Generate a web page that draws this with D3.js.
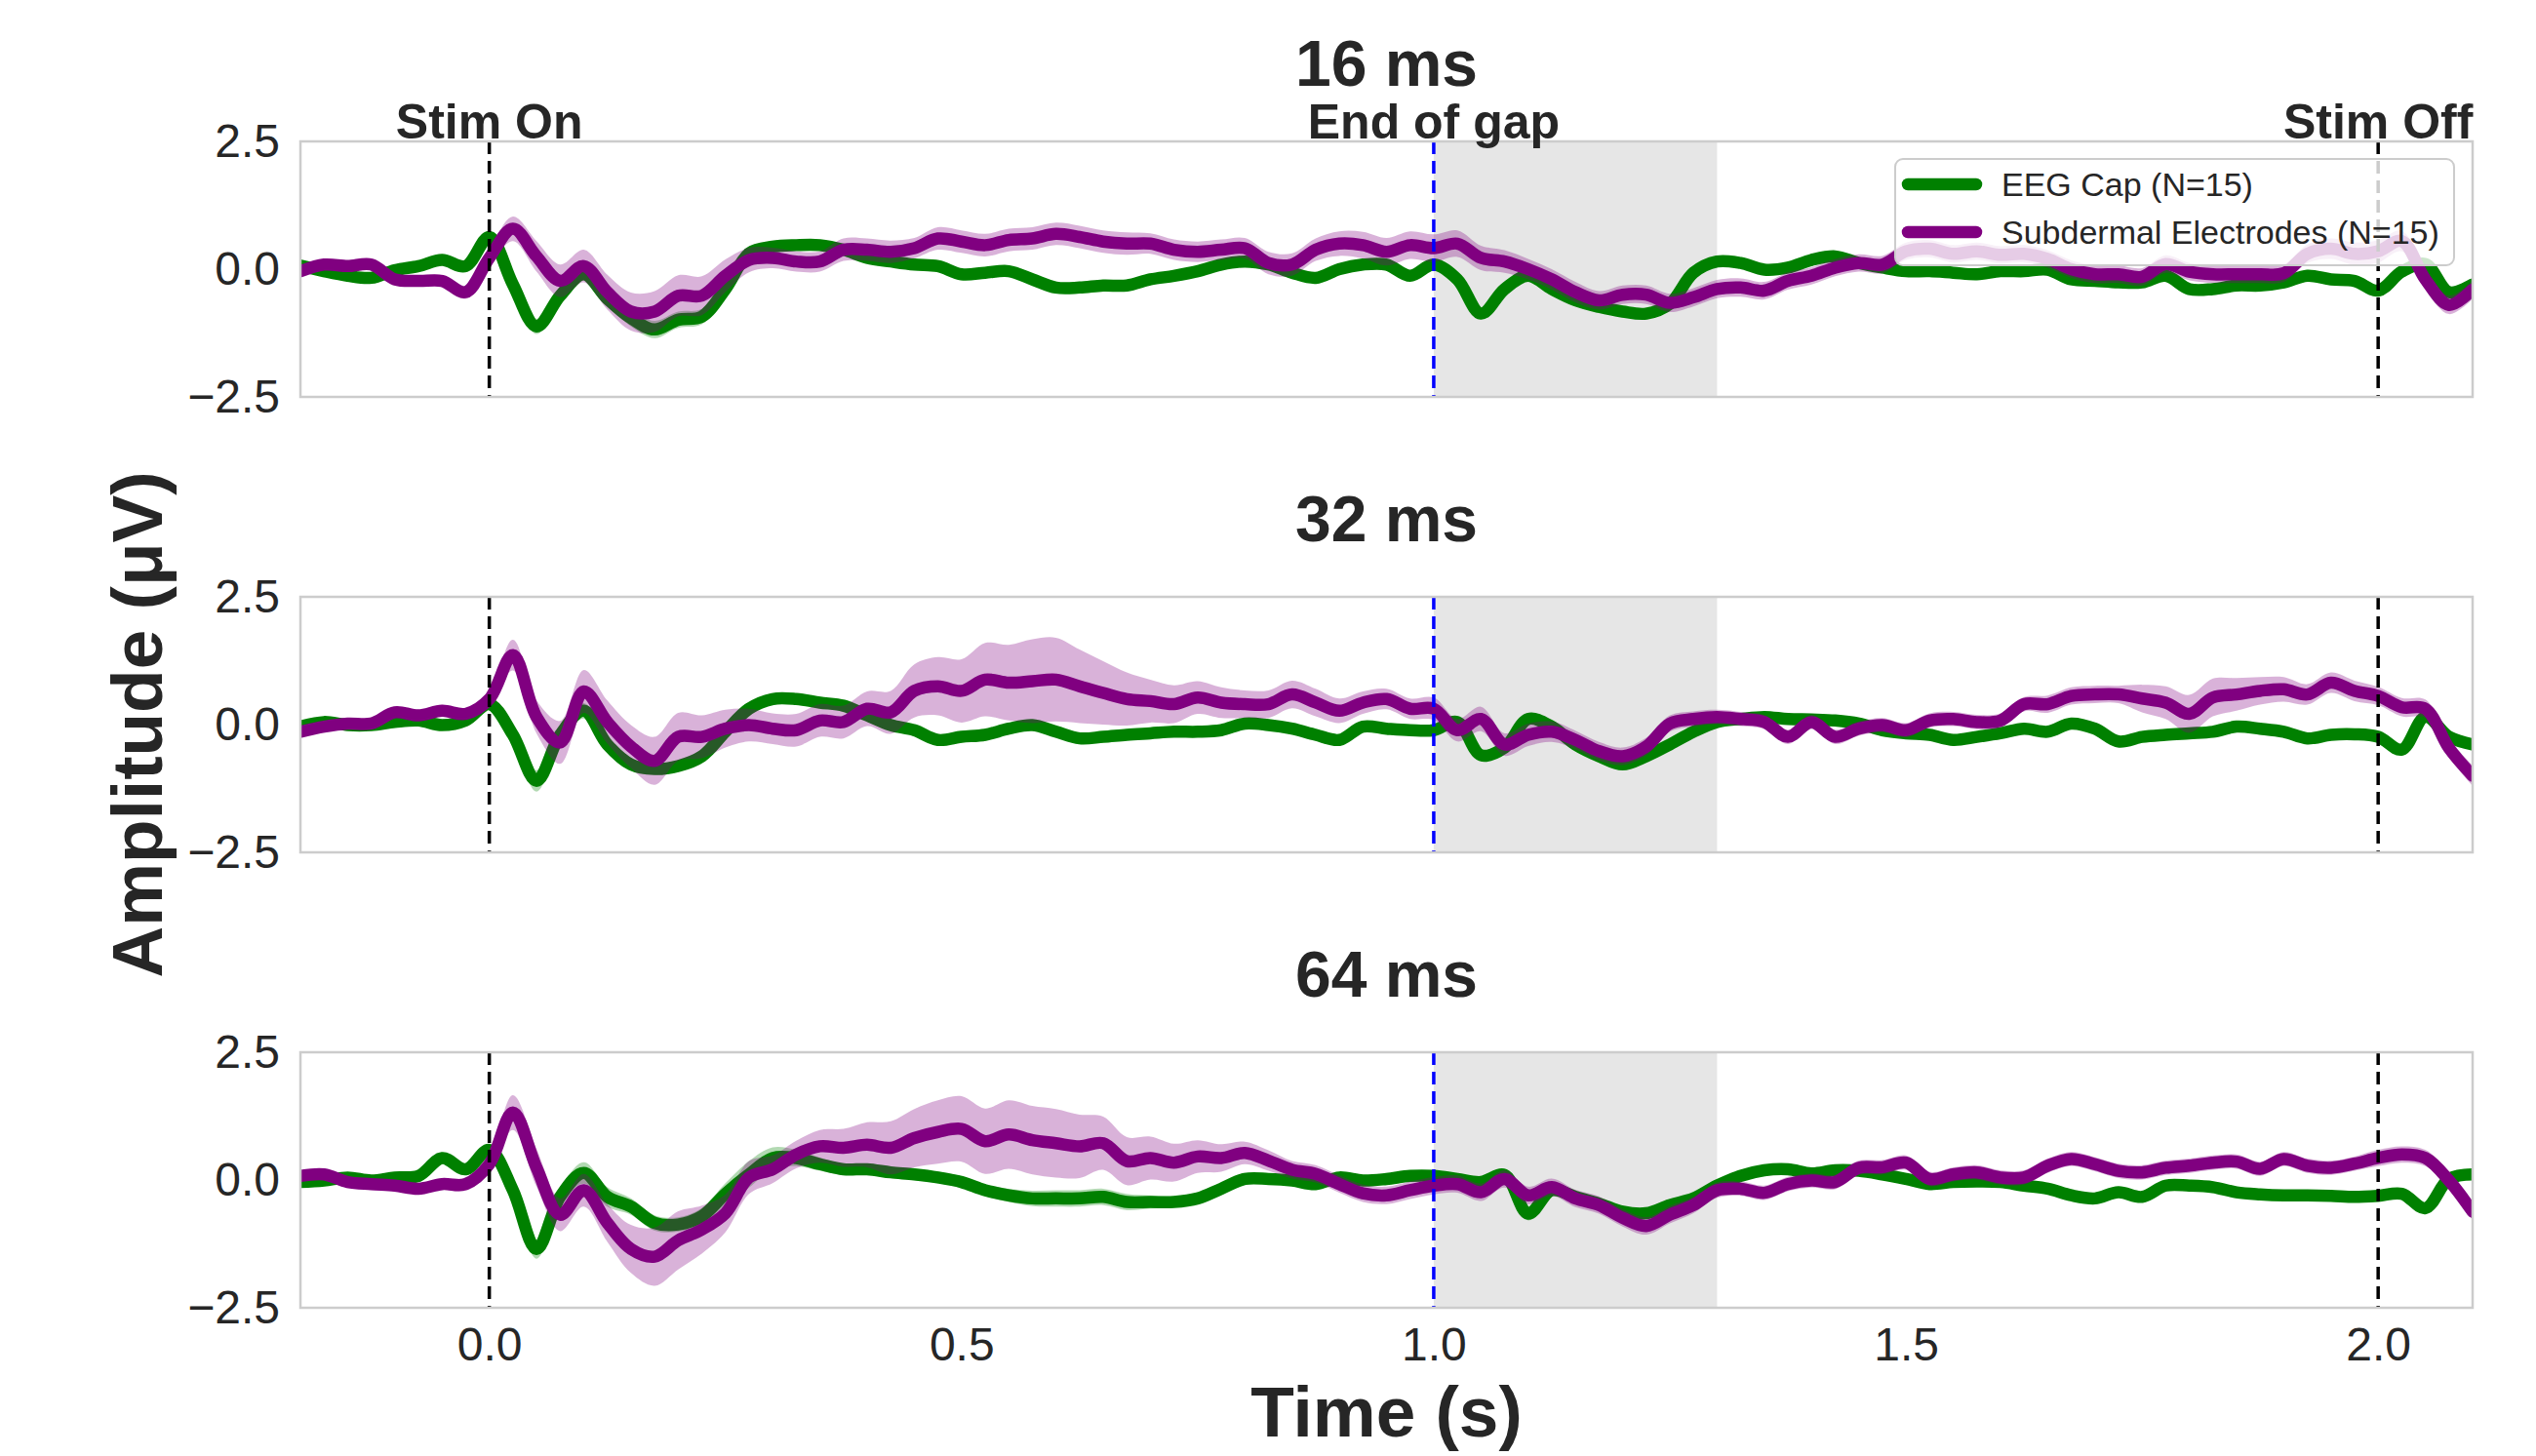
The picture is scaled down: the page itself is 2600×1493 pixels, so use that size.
<!DOCTYPE html>
<html>
<head>
<meta charset="utf-8">
<script src="https://cdn.jsdelivr.net/npm/d3@7"></script>
<style>
  body { margin: 0; background: #fff; }
  svg text { font-family: "Liberation Sans", Arial, sans-serif; fill: #262626; }
</style>
</head>
<body>
<script>
//time axis of the averaged ERPs (s)
var timeS = [
  -0.2,-0.175,-0.15,-0.125,-0.1,-0.075,-0.05,-0.025,0,0.025,
  0.05,0.075,0.1,0.125,0.15,0.175,0.2,0.225,0.25,0.275,
  0.3,0.325,0.35,0.375,0.4,0.425,0.45,0.475,0.5,0.525,
  0.55,0.575,0.6,0.625,0.65,0.675,0.7,0.725,0.75,0.775,
  0.8,0.825,0.85,0.875,0.9,0.925,0.95,0.975,1.0,1.025,
  1.05,1.075,1.1,1.125,1.15,1.175,1.2,1.225,1.25,1.275,
  1.3,1.325,1.35,1.375,1.4,1.425,1.45,1.475,1.5,1.525,
  1.55,1.575,1.6,1.625,1.65,1.675,1.7,1.725,1.75,1.775,
  1.8,1.825,1.85,1.875,1.9,1.925,1.95,1.975,2.0,2.025,
  2.05,2.075,2.1
];

var panelTitles = ["16 ms", "32 ms", "64 ms"];
var seriesNames = ["EEG Cap (N=15)", "Subdermal Electrodes (N=15)"];
var markerTimes = [0, 1.0, 2.0];
var markerLabels = ["Stim On", "End of gap", "Stim Off"];
var gapSpan = [1.0, 1.3];
var xTicks = [0, 0.5, 1.0, 1.5, 2.0];
var yTicks = [-2.5, 0, 2.5];

//mean amplitudes (uV)
var eegCap16 = [
  0.07,-0.04,-0.13,-0.17,-0.02,0.06,0.18,0.06,0.63,-0.3,
  -1.12,-0.52,-0.1,-0.58,-0.96,-1.18,-0.99,-0.93,-0.39,0.31,
  0.44,0.47,0.47,0.38,0.22,0.15,0.09,0.06,-0.1,-0.07,
  -0.04,-0.2,-0.36,-0.36,-0.32,-0.32,-0.2,-0.13,-0.04,0.09,
  0.15,0.09,-0.07,-0.17,0,0.09,0.09,-0.13,0.09,-0.2,
  -0.87,-0.39,-0.13,-0.39,-0.61,-0.74,-0.83,-0.87,-0.68,-0.07,
  0.15,0.12,-0.01,0.03,0.18,0.25,0.12,0.03,-0.04,-0.04,
  -0.07,-0.1,-0.04,-0.04,-0.01,-0.2,-0.23,-0.26,-0.26,-0.13,
  -0.39,-0.39,-0.32,-0.32,-0.26,-0.13,-0.2,-0.23,-0.42,-0.05,
  0.1,-0.45,-0.3
];
var subdermal16 = [
  -0.04,0.09,0.06,0.09,-0.2,-0.23,-0.23,-0.45,0.22,0.79,
  0.25,-0.23,0.06,-0.45,-0.83,-0.83,-0.52,-0.52,-0.13,0.18,
  0.22,0.15,0.15,0.38,0.38,0.34,0.41,0.6,0.54,0.47,
  0.57,0.6,0.69,0.63,0.54,0.5,0.5,0.38,0.34,0.38,
  0.41,0.12,0.09,0.38,0.5,0.47,0.34,0.47,0.41,0.5,
  0.22,0.15,0,-0.2,-0.45,-0.61,-0.5,-0.5,-0.66,-0.55,
  -0.39,-0.36,-0.42,-0.23,-0.13,0.03,0.12,0.09,0.35,0.4,
  0.3,0.35,0.28,0.3,0.2,0,-0.1,-0.1,-0.15,0.1,
  -0.05,-0.1,-0.1,-0.1,-0.08,0.3,0.4,0.3,0.35,0.55,
  -0.2,-0.7,-0.4
];
var eegCap32 = [
  -0.04,0.05,-0.01,-0.01,0.05,0.08,-0.01,0.08,0.4,-0.2,
  -1.1,-0.2,0.27,-0.39,-0.78,-0.87,-0.81,-0.62,-0.14,0.31,
  0.5,0.5,0.43,0.37,0.18,-0.01,-0.11,-0.3,-0.24,-0.2,
  -0.08,-0.01,-0.14,-0.27,-0.24,-0.2,-0.17,-0.14,-0.14,-0.11,
  0.02,-0.01,-0.08,-0.2,-0.3,-0.04,-0.08,-0.11,-0.11,0.05,
  -0.6,-0.45,0.11,-0.04,-0.39,-0.62,-0.78,-0.62,-0.39,-0.14,
  0.05,0.11,0.15,0.11,0.1,0.08,0.02,-0.11,-0.17,-0.2,
  -0.3,-0.24,-0.17,-0.08,-0.14,0.02,-0.08,-0.33,-0.24,-0.2,
  -0.17,-0.14,-0.04,-0.08,-0.14,-0.27,-0.2,-0.19,-0.24,-0.49,
  0.15,-0.24,-0.39
];
var subdermal32 = [
  -0.14,-0.04,0.02,0.02,0.24,0.18,0.27,0.21,0.5,1.36,
  0.15,-0.35,0.65,0.05,-0.43,-0.71,-0.24,-0.24,-0.08,-0.01,
  -0.08,-0.11,0.08,0.05,0.31,0.24,0.66,0.75,0.66,0.88,
  0.82,0.85,0.88,0.75,0.62,0.5,0.46,0.4,0.53,0.43,
  0.4,0.4,0.59,0.43,0.27,0.43,0.5,0.31,0.31,-0.11,
  0.11,-0.39,-0.2,-0.14,-0.3,-0.52,-0.62,-0.43,0.02,0.11,
  0.15,0.11,0.05,-0.24,0.05,-0.24,-0.08,-0.01,-0.11,0.08,
  0.11,0.05,0.08,0.4,0.4,0.56,0.59,0.59,0.51,0.43,
  0.21,0.53,0.59,0.66,0.69,0.59,0.82,0.66,0.56,0.34,
  0.31,-0.46,-1.0
];
var eegCap64 = [
  -0.04,-0.01,0.05,-0.01,0.05,0.08,0.43,0.21,0.59,-0.2,
  -1.35,-0.33,0.14,-0.33,-0.52,-0.84,-0.87,-0.71,-0.27,0.11,
  0.43,0.43,0.31,0.21,0.21,0.15,0.11,0.05,-0.04,-0.2,
  -0.3,-0.36,-0.36,-0.36,-0.33,-0.43,-0.43,-0.43,-0.36,-0.17,
  0.02,0.02,-0.01,-0.08,0.05,-0.01,0.02,0.08,0.08,0.02,
  -0.04,0.1,-0.66,-0.2,-0.33,-0.46,-0.62,-0.65,-0.49,-0.36,
  -0.11,0.08,0.19,0.21,0.13,0.19,0.18,0.11,0.02,-0.08,
  -0.04,-0.03,-0.04,-0.11,-0.17,-0.3,-0.36,-0.24,-0.33,-0.11,
  -0.11,-0.14,-0.24,-0.28,-0.3,-0.3,-0.31,-0.33,-0.31,-0.27,
  -0.55,0.02,0.11
];
var subdermal64 = [
  0.08,0.11,-0.04,-0.08,-0.11,-0.17,-0.08,-0.08,0.31,1.32,
  0.24,-0.68,-0.2,-0.84,-1.35,-1.5,-1.18,-0.97,-0.65,0.05,
  0.21,0.5,0.66,0.63,0.69,0.63,0.82,0.94,1.0,0.76,
  0.89,0.78,0.72,0.66,0.72,0.37,0.43,0.34,0.46,0.43,
  0.53,0.38,0.2,0.12,-0.08,-0.26,-0.3,-0.2,-0.11,-0.08,
  -0.24,0.02,-0.3,-0.14,-0.36,-0.49,-0.74,-0.9,-0.68,-0.49,
  -0.2,-0.17,-0.25,-0.08,-0.01,-0.04,0.24,0.25,0.34,0.02,
  0.11,0.15,0.05,0.05,0.28,0.41,0.31,0.18,0.15,0.24,
  0.28,0.34,0.36,0.22,0.41,0.28,0.24,0.32,0.43,0.5,
  0.43,-0.01,-0.62
];

//standard error of the mean (uV)
var eegCapSem16 = [
  .07,.07,.07,.07,.07,.07,.08,.08,.09,.11,
  .15,.13,.11,.13,.16,.17,.16,.15,.13,.11,
  .09,.09,.08,.08,.08,.08,.08,.09,.09,.09,
  .09,.09,.1,.1,.1,.09,.09,.09,.08,.08,
  .08,.08,.08,.08,.08,.08,.08,.08,.08,.08,
  .1,.09,.09,.09,.09,.09,.09,.09,.09,.08,
  .08,.08,.08,.07,.07,.07,.07,.07,.07,.07,
  .07,.07,.07,.07,.07,.07,.07,.07,.08,.08,
  .08,.08,.08,.08,.08,.08,.08,.08,.09,.09,
  .09,.1,.1
];
var subdermalSem16 = [
  .11,.11,.11,.11,.11,.11,.11,.13,.17,.24,
  .3,.32,.32,.34,.37,.4,.4,.38,.32,.24,
  .2,.2,.2,.22,.22,.22,.2,.22,.22,.22,
  .22,.22,.22,.22,.22,.22,.2,.2,.2,.2,
  .2,.22,.22,.22,.24,.26,.27,.27,.27,.26,
  .24,.22,.2,.2,.2,.18,.18,.18,.18,.18,
  .18,.18,.17,.17,.17,.17,.17,.17,.17,.17,
  .17,.17,.17,.17,.17,.17,.17,.17,.17,.17,
  .17,.17,.17,.17,.17,.18,.2,.22,.22,.2,
  .2,.18,.18
];
var eegCapSem32 = [
  .07,.07,.07,.07,.07,.07,.07,.08,.09,.13,
  .21,.16,.15,.13,.11,.11,.11,.11,.11,.11,
  .11,.11,.1,.09,.09,.09,.09,.09,.09,.09,
  .09,.09,.09,.09,.09,.09,.09,.09,.09,.09,
  .08,.08,.08,.08,.08,.08,.08,.08,.08,.09,
  .11,.11,.11,.1,.1,.1,.1,.11,.11,.09,
  .08,.08,.08,.08,.08,.08,.08,.08,.08,.08,
  .08,.08,.08,.08,.08,.08,.08,.08,.08,.08,
  .08,.08,.08,.08,.08,.08,.08,.08,.09,.09,
  .09,.1,.11
];
var subdermalSem32 = [
  .09,.09,.09,.09,.09,.11,.11,.11,.15,.3,
  .32,.42,.42,.42,.42,.47,.47,.42,.37,.32,
  .3,.32,.32,.32,.34,.42,.52,.57,.62,.72,
  .74,.82,.82,.72,.62,.52,.42,.37,.32,.3,
  .27,.27,.27,.27,.24,.22,.2,.2,.22,.22,
  .24,.22,.22,.2,.18,.18,.17,.17,.16,.15,
  .14,.14,.14,.14,.14,.14,.14,.14,.14,.14,
  .14,.14,.14,.14,.17,.17,.17,.17,.27,.32,
  .37,.37,.32,.27,.24,.2,.2,.2,.18,.18,
  .18,.18,.2
];
var eegCapSem64 = [
  .07,.07,.07,.07,.07,.07,.08,.08,.09,.13,
  .19,.16,.21,.19,.16,.15,.14,.16,.21,.26,
  .21,.16,.13,.11,.11,.11,.11,.11,.11,.11,
  .13,.15,.16,.16,.16,.16,.13,.11,.09,.08,
  .08,.08,.08,.08,.08,.08,.08,.08,.08,.09,
  .1,.11,.13,.11,.11,.11,.11,.11,.1,.09,
  .09,.09,.09,.08,.08,.08,.08,.08,.08,.08,
  .08,.08,.08,.08,.08,.08,.08,.08,.09,.09,
  .09,.09,.09,.09,.09,.09,.08,.08,.08,.09,
  .1,.11,.11
];
var subdermalSem64 = [
  .09,.09,.09,.09,.09,.09,.11,.13,.17,.34,
  .37,.32,.32,.37,.47,.57,.57,.47,.37,.32,
  .27,.27,.32,.37,.44,.52,.57,.62,.64,.64,
  .67,.67,.67,.62,.52,.47,.42,.37,.32,.27,
  .22,.2,.17,.17,.17,.17,.17,.17,.17,.17,
  .17,.17,.17,.17,.17,.17,.17,.17,.17,.16,
  .15,.14,.14,.14,.14,.14,.14,.14,.14,.14,
  .14,.14,.14,.14,.14,.14,.14,.14,.14,.14,
  .14,.14,.14,.14,.14,.14,.14,.14,.16,.16,
  .16,.16,.16
];

var seriesColors = ["green", "purple"];
var panels = [
  {title: panelTitles[0], means: [eegCap16, subdermal16], sems: [eegCapSem16, subdermalSem16]},
  {title: panelTitles[1], means: [eegCap32, subdermal32], sems: [eegCapSem32, subdermalSem32]},
  {title: panelTitles[2], means: [eegCap64, subdermal64], sems: [eegCapSem64, subdermalSem64]}
];

//frame
var width = 2600, height = 1493;
var plotLeft = 308, plotRight = 2535, panelH = 262;
var panelTops = [145, 612, 1079];
var lineW = 12.5;

var svg = d3.select("body")
    .append("svg")
    .attr("width", width)
    .attr("height", height);

var x = d3.scaleLinear()
    .domain([-0.2, 2.1])
    .range([plotLeft, plotRight]);

var y = d3.scaleLinear()
    .domain([-2.5, 2.5])
    .range([panelH, 0]);

var curve = d3.curveCatmullRom.alpha(0.5);

panels.forEach(function(p, k){
    var g = svg.append("g")
        .attr("transform", "translate(0," + panelTops[k] + ")");

    g.append("clipPath")
        .attr("id", "clip" + k)
        .append("rect")
        .attr("x", plotLeft)
        .attr("y", 0)
        .attr("width", plotRight - plotLeft)
        .attr("height", panelH);

    var plot = g.append("g").attr("clip-path", "url(#clip" + k + ")");

    //shaded post-gap window
    plot.append("rect")
        .attr("x", x(gapSpan[0]))
        .attr("y", 0)
        .attr("width", x(gapSpan[1]) - x(gapSpan[0]))
        .attr("height", panelH)
        .attr("fill", "#808080")
        .attr("fill-opacity", 0.2);

    //sem bands and mean lines
    p.means.forEach(function(mean, s){
        var sem = p.sems[s];
        var rows = timeS.map(function(t, i){
            return {t: t, m: mean[i], e: sem[i]};
        });

        var area = d3.area()
            .x(function(d){ return x(d.t); })
            .y0(function(d){ return y(d.m - d.e); })
            .y1(function(d){ return y(d.m + d.e); })
            .curve(curve);

        var line = d3.line()
            .x(function(d){ return x(d.t); })
            .y(function(d){ return y(d.m); })
            .curve(curve);

        plot.append("path")
            .datum(rows)
            .attr("d", area)
            .attr("fill", seriesColors[s])
            .attr("fill-opacity", 0.3)
            .attr("stroke", "none");

        plot.append("path")
            .datum(rows)
            .attr("d", line)
            .attr("fill", "none")
            .attr("stroke", seriesColors[s])
            .attr("stroke-width", lineW)
            .attr("stroke-linejoin", "round")
            .attr("stroke-linecap", "round");
    });

    //event markers
    markerTimes.forEach(function(t, i){
        plot.append("line")
            .attr("x1", x(t)).attr("x2", x(t))
            .attr("y1", 0).attr("y2", panelH)
            .attr("stroke", i == 1 ? "blue" : "black")
            .attr("stroke-width", 3.5)
            .attr("stroke-dasharray", "13,7");
    });

    //frame
    g.append("rect")
        .attr("x", plotLeft)
        .attr("y", 0)
        .attr("width", plotRight - plotLeft)
        .attr("height", panelH)
        .attr("fill", "none")
        .attr("stroke", "#cccccc")
        .attr("stroke-width", 2.5);

    //y axis
    var yAxis = g.append("g")
        .attr("transform", "translate(" + plotLeft + ",0)")
        .call(d3.axisLeft(y).tickValues(yTicks).tickSize(0).tickPadding(21).tickFormat(d3.format(".1f")));
    yAxis.select(".domain").remove();
    yAxis.selectAll("text")
        .attr("font-size", 48)
        .attr("font-family", null)
        .style("fill", "#262626");

    //title
    g.append("text")
        .attr("x", (plotLeft + plotRight) / 2)
        .attr("y", -57)
        .attr("text-anchor", "middle")
        .attr("font-size", 66)
        .attr("font-weight", "bold")
        .text(p.title);

    if (k == 0){
        markerLabels.forEach(function(lab, i){
            g.append("text")
                .attr("x", x(markerTimes[i]))
                .attr("y", -3)
                .attr("text-anchor", "middle")
                .attr("font-size", 50)
                .attr("font-weight", "bold")
                .text(lab);
        });

        //legend
        var leg = g.append("g").attr("transform", "translate(0," + (-panelTops[0]) + ")");
        leg.append("rect")
            .attr("x", 1943).attr("y", 163)
            .attr("width", 573).attr("height", 109)
            .attr("rx", 8)
            .attr("fill", "white")
            .attr("fill-opacity", 0.8)
            .attr("stroke", "#cccccc")
            .attr("stroke-width", 2);
        seriesNames.forEach(function(name, s){
            var ly = 189 + s * 49;
            leg.append("line")
                .attr("x1", 1956).attr("x2", 2026)
                .attr("y1", ly).attr("y2", ly)
                .attr("stroke", seriesColors[s])
                .attr("stroke-width", lineW)
                .attr("stroke-linecap", "round");
            leg.append("text")
                .attr("x", 2052)
                .attr("y", ly + 12)
                .attr("font-size", 34)
                .text(name);
        });
    }

    if (k == panels.length - 1){
        var xAxis = g.append("g")
            .attr("transform", "translate(0," + panelH + ")")
            .call(d3.axisBottom(x).tickValues(xTicks).tickSize(0).tickPadding(20).tickFormat(d3.format(".1f")));
        xAxis.select(".domain").remove();
        xAxis.selectAll("text")
            .attr("font-size", 48)
            .attr("font-family", null)
            .style("fill", "#262626");
    }
});

//axis labels
svg.append("text")
    .attr("x", (plotLeft + plotRight) / 2)
    .attr("y", 1473)
    .attr("text-anchor", "middle")
    .attr("font-size", 73)
    .attr("font-weight", "bold")
    .text("Time (s)");

svg.append("text")
    .attr("transform", "translate(166,743) rotate(-90)")
    .attr("text-anchor", "middle")
    .attr("font-size", 73)
    .attr("font-weight", "bold")
    .text("Amplitude (μV)");
</script>
</body>
</html>
